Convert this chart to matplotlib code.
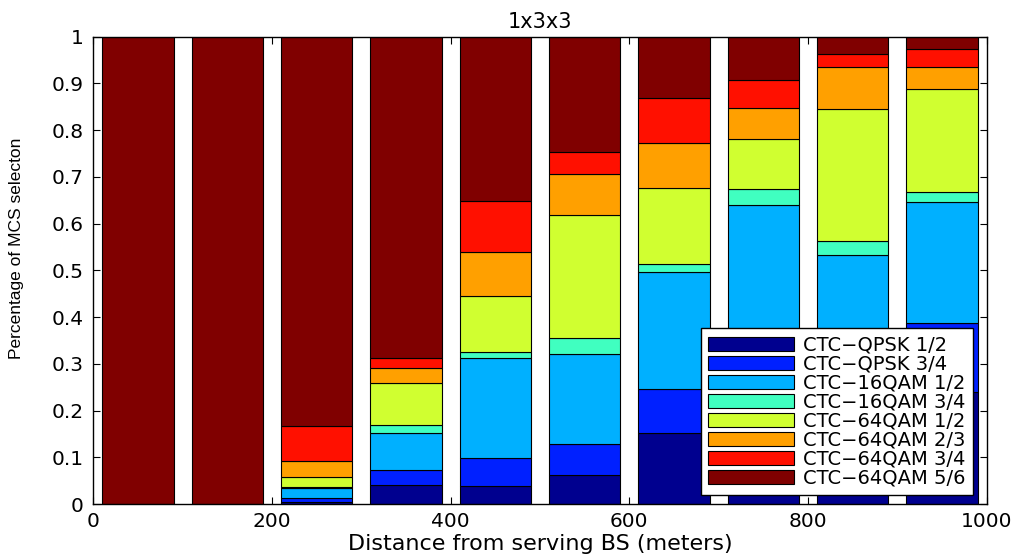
import numpy as np
import matplotlib
matplotlib.use("Agg")
import matplotlib.pyplot as plt

# Distance bins (bin centres, metres)
distance = [50, 150, 250, 350, 450, 550, 650, 750, 850, 950]

# Share of each MCS per distance bin (bottom to top of each stacked bar)
qpsk_12   = [0.000, 0.000, 0.004, 0.040, 0.038, 0.062, 0.153, 0.200, 0.210, 0.239]
qpsk_34   = [0.000, 0.000, 0.009, 0.033, 0.060, 0.066, 0.093, 0.120, 0.130, 0.149]
qam16_12  = [0.000, 0.000, 0.021, 0.080, 0.214, 0.192, 0.250, 0.320, 0.192, 0.259]
qam16_34  = [0.000, 0.000, 0.003, 0.017, 0.013, 0.036, 0.017, 0.034, 0.031, 0.021]
qam64_12  = [0.000, 0.000, 0.020, 0.088, 0.120, 0.262, 0.164, 0.107, 0.283, 0.221]
qam64_23  = [0.000, 0.000, 0.034, 0.032, 0.095, 0.089, 0.096, 0.067, 0.090, 0.047]
qam64_34  = [0.000, 0.000, 0.076, 0.023, 0.109, 0.047, 0.095, 0.059, 0.028, 0.038]
qam64_56  = [1.000, 1.000, 0.833, 0.687, 0.351, 0.246, 0.132, 0.093, 0.036, 0.026]

labels = ["CTC\u2212QPSK 1/2", "CTC\u2212QPSK 3/4", "CTC\u221216QAM 1/2",
          "CTC\u221216QAM 3/4", "CTC\u221264QAM 1/2", "CTC\u221264QAM 2/3",
          "CTC\u221264QAM 3/4", "CTC\u221264QAM 5/6"]
colors = ["#00008F", "#0020FF", "#00B0FF", "#40FFC0",
          "#D0FF30", "#FFA000", "#FF1000", "#800000"]

series = [qpsk_12, qpsk_34, qam16_12, qam16_34,
          qam64_12, qam64_23, qam64_34, qam64_56]

plt.rcParams["font.family"] = ["DejaVu Sans"]

fig = plt.figure(figsize=(10.21, 5.56), dpi=100)
ax = fig.add_axes([0.0914, 0.0935, 0.8750, 0.8405])

x = np.array(distance, dtype=float)
bottom = np.zeros(len(x))
for vals, lab, col in zip(series, labels, colors):
    v = np.array(vals)
    ax.bar(x, v, width=80, bottom=bottom, color=col, edgecolor="black",
           linewidth=0.8, label=lab)
    bottom += v

ax.set_xlim(0, 1000)
ax.set_ylim(0, 1)
ax.set_xticks(np.arange(0, 1001, 200))
ax.set_yticks(np.arange(0, 1.001, 0.1))
ax.set_yticklabels(["0", "0.1", "0.2", "0.3", "0.4", "0.5",
                    "0.6", "0.7", "0.8", "0.9", "1"])
ax.tick_params(direction="in", length=5, width=0.8, top=True, right=True,
               labelsize=14.5)
ax.tick_params(axis="x", pad=6)
ax.tick_params(axis="y", pad=7)
for s in ax.spines.values():
    s.set_linewidth(1.0)

ax.set_title("1x3x3", fontsize=15, pad=6)
ax.set_xlabel("Distance from serving BS (meters)", fontsize=16)
ax.xaxis.set_label_coords(0.5, -0.064)
ax.set_ylabel("Percentage of MCS selecton", fontsize=12.5,
              family=["Liberation Sans", "DejaVu Sans"], fontstretch="condensed")
ax.yaxis.set_label_coords(-0.078, 0.548)

leg = ax.legend(loc="lower right", bbox_to_anchor=(0.985, 0.019),
                borderaxespad=0, fontsize=14, frameon=True, fancybox=False,
                framealpha=1, edgecolor="black", handlelength=4.4,
                handleheight=0.8, handletextpad=0.5, labelspacing=0.0,
                borderpad=0.38)
leg.get_frame().set_linewidth(1.0)

fig.savefig("out.png", dpi=100, facecolor="white")
